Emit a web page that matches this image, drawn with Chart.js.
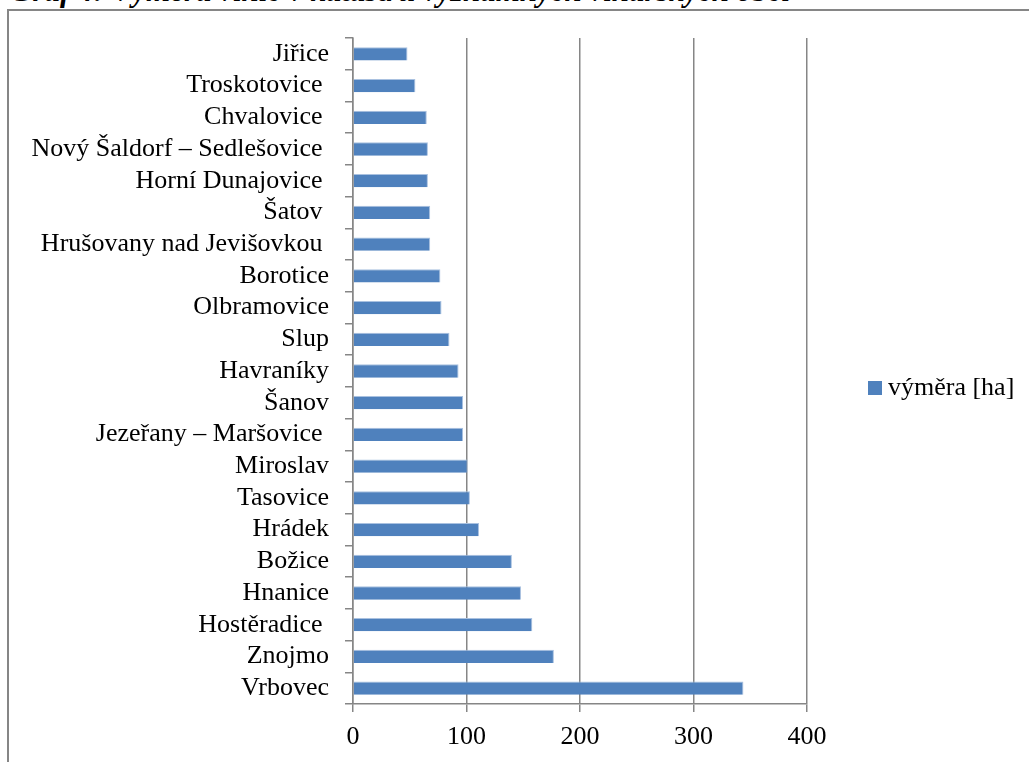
<!DOCTYPE html>
<html>
<head>
<meta charset="utf-8">
<script src="https://cdn.jsdelivr.net/npm/chart.js@4.4.1/dist/chart.umd.min.js"></script>
<style>
    html, body {
        margin: 0;
        padding: 0;
        background: #ffffff;
        overflow: hidden;
    }
    #page {
        position: relative;
        width: 1029px;
        height: 762px;
        overflow: hidden;
    }
    #caption {
        position: absolute;
        left: 10px;
        top: -26px;
        font: italic bold 31px "Liberation Serif", serif;
        line-height: 34px;
        white-space: nowrap;
        color: #000;
    }
    #frame {
        position: absolute;
        left: 7px;
        top: 9px;
        width: 1100px;
        height: 900px;
        border: 2px solid #868686;
    }
    #chart {
        position: absolute;
        left: 0;
        top: 0;
    }
</style>
</head>
<body>
<div id="page">
    <div id="caption">Graf 4: Výměra vinic v katastru významných vinařských obcí</div>
    <div id="frame"></div>
    <canvas id="chart" width="1029" height="762"></canvas>
</div>
<script>
const categories = [
    "Jiřice", "Troskotovice ", "Chvalovice ", "Nový Šaldorf – Sedlešovice ",
    "Horní Dunajovice ", "Šatov ", "Hrušovany nad Jevišovkou ", "Borotice",
    "Olbramovice", "Slup", "Havraníky", "Šanov", "Jezeřany – Maršovice ",
    "Miroslav", "Tasovice", "Hrádek", "Božice", "Hnanice", "Hostěradice ",
    "Znojmo", "Vrbovec"
];
const vymera = [
    48, 55, 65, 66, 66, 68, 68, 77, 78, 85, 93, 97, 97,
    101, 103, 111, 140, 148, 158, 177, 344
];
const xTicks = [0, 100, 200, 300, 400];

const seriesLabel = "výměra [ha]";
const barColor = "#4F81BD";
const gridColor = "#868686";
const fontFamily = '"Liberation Serif", "Times New Roman", serif';

// legend drawn by hand so it sits where the original has it
const sideLegend = {
    id: "sideLegend",
    afterDraw(chart) {
        const ctx = chart.ctx;
        const ds = chart.data.datasets[0];
        const y = (chart.chartArea.top + chart.chartArea.bottom) / 2 + 17;
        ctx.save();
        ctx.fillStyle = ds.backgroundColor;
        ctx.fillRect(868, y - 7, 14, 14);
        ctx.fillStyle = "#000";
        ctx.font = "26px " + fontFamily;
        ctx.textBaseline = "middle";
        ctx.textAlign = "left";
        ctx.fillText(ds.label, 888, y);
        ctx.restore();
    }
};

new Chart(document.getElementById("chart"), {
    type: "bar",
    data: {
        labels: categories,
        datasets: [{
            label: seriesLabel,
            data: vymera,
            backgroundColor: barColor,
            borderColor: "#A9C1E0",
            borderWidth: {top: 1, right: 1, bottom: 0, left: 0},
            borderSkipped: false,
            barPercentage: 0.42,
            categoryPercentage: 1.0,
        }]
    },
    options: {
        indexAxis: "y",
        responsive: false,
        animation: false,
        layout: {
            padding: {top: 38, right: 222, bottom: 0, left: 0}
        },
        plugins: {
            legend: {display: false},
            title: {display: false},
            tooltip: {enabled: false},
        },
        scales: {
            x: {
                min: 0,
                max: 400,
                afterBuildTicks: (scale) => {
                    scale.ticks = xTicks.map(v => ({value: v}));
                },
                afterFit: (scale) => {
                    scale.height = 58;
                },
                border: {color: gridColor, width: 1.5},
                grid: {
                    color: gridColor,
                    lineWidth: 1.5,
                    tickLength: 8,
                    drawTicks: true,
                },
                ticks: {
                    color: "#000",
                    padding: 10,
                    font: {family: fontFamily, size: 26},
                    maxRotation: 0,
                },
            },
            y: {
                afterFit: (scale) => {
                    scale.width = 353;
                },
                border: {color: gridColor, width: 1.5},
                grid: {
                    offset: true,
                    drawOnChartArea: false,
                    color: gridColor,
                    lineWidth: 1.5,
                    tickLength: 8,
                },
                ticks: {
                    color: "#000",
                    padding: 16,
                    autoSkip: false,
                    font: {family: fontFamily, size: 26},
                },
            },
        },
    },
    plugins: [sideLegend],
});
</script>
</body>
</html>
